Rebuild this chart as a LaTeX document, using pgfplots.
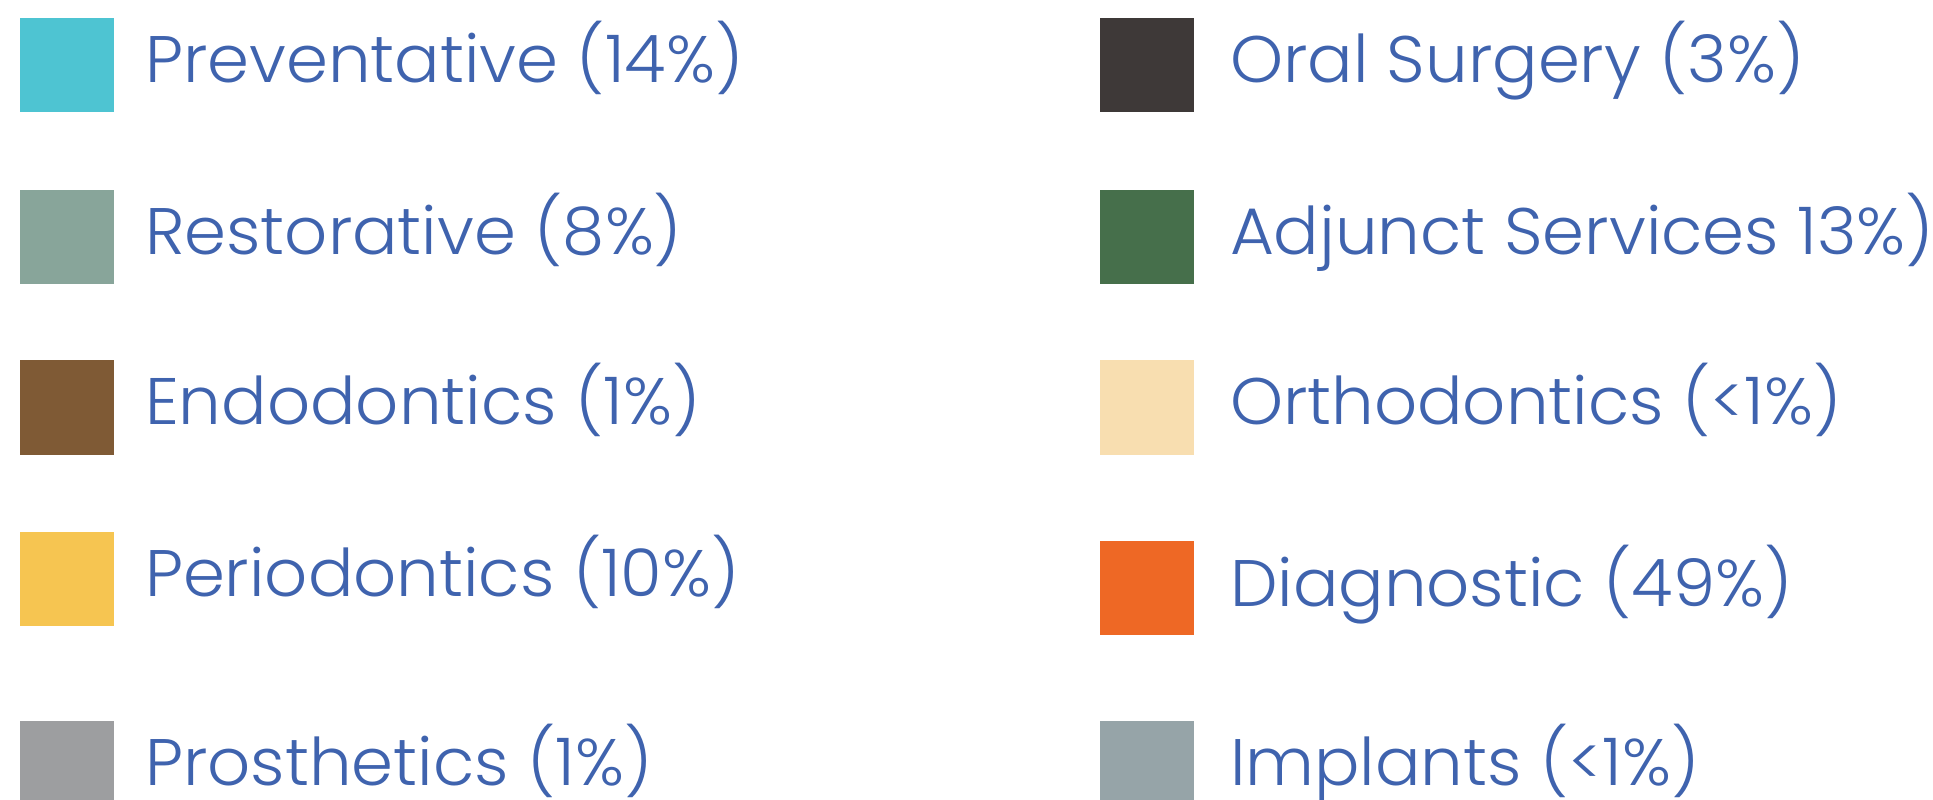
\documentclass[border=0pt]{standalone}
\usepackage{pgfplots}
\pgfplotsset{compat=1.18}
\usepackage{fontspec}
\setmainfont{Poppins Light}[FakeStretch=1.025]
\definecolor{txt}{HTML}{3F63AE}
\definecolor{cPrev}{HTML}{4EC4D2}
\definecolor{cRest}{HTML}{88A59A}
\definecolor{cEndo}{HTML}{7F5A35}
\definecolor{cPerio}{HTML}{F6C551}
\definecolor{cPros}{HTML}{9D9EA0}
\definecolor{cOral}{HTML}{3E3938}
\definecolor{cAdj}{HTML}{466F4B}
\definecolor{cOrtho}{HTML}{F8DEB0}
\definecolor{cDiag}{HTML}{EE6825}
\definecolor{cImp}{HTML}{96A4A8}
\begin{document}
\begin{tikzpicture}
\begin{axis}[
  scale only axis, width=773.2pt, height=320pt,
  xmin=0, xmax=1933, ymin=0, ymax=800, y dir=reverse,
  axis lines=none, clip=false,
]
\addplot[only marks, mark=square*, mark size=18.6pt, cPrev, mark options={draw=none}] coordinates {(66.5,65)};
\addplot[only marks, mark=square*, mark size=18.6pt, cRest, mark options={draw=none}] coordinates {(66.5,237)};
\addplot[only marks, mark=square*, mark size=18.6pt, cEndo, mark options={draw=none}] coordinates {(66.5,407.5)};
\addplot[only marks, mark=square*, mark size=18.6pt, cPerio, mark options={draw=none}] coordinates {(66.5,579)};
\addplot[only marks, mark=square*, mark size=18.6pt, cPros, mark options={draw=none}] coordinates {(66.5,768)};
\addplot[only marks, mark=square*, mark size=18.6pt, cOral, mark options={draw=none}] coordinates {(1146.5,65)};
\addplot[only marks, mark=square*, mark size=18.6pt, cAdj, mark options={draw=none}] coordinates {(1146.5,237)};
\addplot[only marks, mark=square*, mark size=18.6pt, cOrtho, mark options={draw=none}] coordinates {(1146.5,407.5)};
\addplot[only marks, mark=square*, mark size=18.6pt, cDiag, mark options={draw=none}] coordinates {(1146.5,588)};
\addplot[only marks, mark=square*, mark size=18.6pt, cImp, mark options={draw=none}] coordinates {(1146.5,768)};
\addplot[only marks, mark=none, nodes near coords, point meta=explicit symbolic,
  every node near coord/.append style={anchor=base west, inner sep=0pt, text=txt, font=\fontsize{26.3pt}{30pt}\selectfont}]
  coordinates {
  (144.5,82.5) [Preventative (14\%)]
  (144.5,254.5) [Restorative (8\%)]
  (144.5,425) [Endodontics (1\%)]
  (144.5,596.5) [Periodontics (10\%)]
  (144.5,785.5) [Prosthetics (1\%)]
  (1229.5,82.5) [Oral Surgery (3\%)]
  (1229.5,254.5) [Adjunct Services 13\%)]
  (1229.5,425) [Orthodontics (<1\%)]
  (1229.5,606) [Diagnostic (49\%)]
  (1229.5,785.5) [Implants (<1\%)]
  };
\coordinate (SW) at (rel axis cs:0,1);
\coordinate (NE) at (rel axis cs:1,0);
\end{axis}
\pgfresetboundingbox
\path[use as bounding box] (SW) rectangle (NE);
\end{tikzpicture}
\end{document}
